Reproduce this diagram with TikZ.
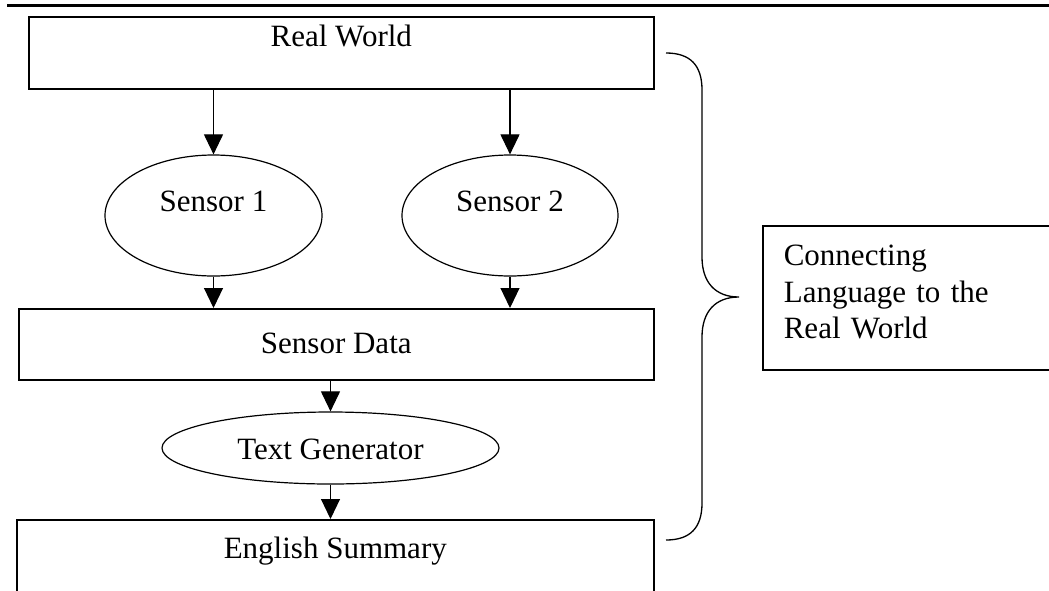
\documentclass[tikz,border=0pt]{standalone}
\usepackage{fontspec}
\setmainfont{Liberation Serif}
\usetikzlibrary{arrows.meta,shapes.geometric}
\tikzset{
	box/.style={draw=black, line width=1.6pt, rectangle, inner sep=0pt, anchor=north west, font=\fontsize{31}{36.5}\selectfont},
	sensor/.style={draw=black, line width=1.2pt, ellipse, inner sep=0pt, font=\fontsize{31}{36.5}\selectfont},
	flow/.style={draw=black, line width=1.1pt, -{Triangle[length=20pt,width=19pt]}},
	brace/.style={draw=black, line width=1.3pt},
	toprule/.style={draw=black, line width=3pt}
}
\begin{document}
\begin{tikzpicture}[x=1pt,y=-1pt]
		
		\useasboundingbox (0,0) rectangle (1049,590);
		
		\draw[toprule] (7,5.5) -- (1049,5.5);
		
		\node[box, minimum width=625pt, text height=30pt, text depth=42pt] (realworld) at (28,16) {Real World};
		\node[sensor, minimum width=217pt, minimum height=121pt, text height=22pt, text depth=31pt] (sensorA) at (213.5,215.5) {Sensor 1};
		\node[sensor, minimum width=216pt, minimum height=121pt, text height=22pt, text depth=31pt] (sensorB) at (510,215.5) {Sensor 2};
		\node[box, minimum width=635pt, text height=45pt, text depth=26pt] (sensordata) at (18,308) {Sensor Data};
		\node[sensor, minimum width=337pt, minimum height=72pt, text height=24pt, text depth=2pt] (textgen) at (330.5,448) {Text Generator};
		\node[box, minimum width=637pt, text height=39pt, text depth=60pt] (summary) at (16,519) {English Summary};
		\node[box, minimum width=300pt, text width=258pt, inner xsep=21pt, align=left, text height=40pt, text depth=104pt] (connect) at (762,225) {Connecting\\Language to the\\Real World};
		
		\draw[flow] (sensorA.north |- realworld.south) -- (sensorA.north);
		\draw[flow] (sensorB.north |- realworld.south) -- (sensorB.north);
		\draw[flow] (sensorA.south) -- (sensorA.south |- sensordata.north);
		\draw[flow] (sensorB.south) -- (sensorB.south |- sensordata.north);
		\draw[flow] (textgen.north |- sensordata.south) -- (textgen.north);
		\draw[flow] (textgen.south) -- (textgen.south |- summary.north);
		
		\draw[brace] (666,53) .. controls (690,53) and (702,65) .. (702,90) -- (702,257) .. controls (702,282) and (715,297) .. (739,297) .. controls (715,297) and (702,312) .. (702,337) -- (702,503) .. controls (702,528) and (690,540) .. (666,540);
		
	\end{tikzpicture}
\end{document}
